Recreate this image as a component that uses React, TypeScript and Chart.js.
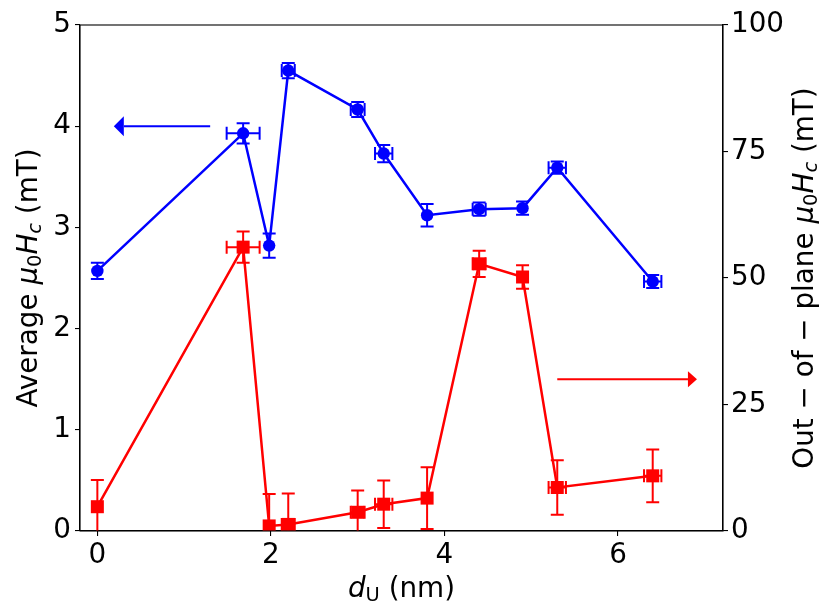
import React, { useEffect, useRef } from 'react';
import { Chart, registerables, Plugin, ChartConfiguration } from 'chart.js';

Chart.register(...registerables);

const FONT = '"DejaVu Sans", sans-serif';
const FS = 27.8;
const BLUE = '#0000ff';
const RED = '#ff0000';
const CAP = 6.5;

// U layer thickness d_U (nm) and its uncertainty
const thickness = [0, 1.68, 1.98, 2.2, 3.0, 3.3, 3.8, 4.4, 4.9, 5.3, 6.4];
const thicknessErr = [0, 0.19, 0, 0.075, 0.08, 0.1, 0, 0.075, 0, 0.1, 0.1];

// average coercive field, left axis (mT)
const avgHc = [2.57, 3.93, 2.82, 4.55, 4.165, 3.73, 3.12, 3.18, 3.19, 3.59, 2.465];
const avgHcErr = [0.08, 0.1, 0.12, 0.075, 0.075, 0.085, 0.11, 0.065, 0.065, 0.06, 0.065];

// out-of-plane coercive field, right axis (mT)
const oopHc = [4.8, 56.1, 1.0, 1.3, 3.7, 5.3, 6.5, 52.8, 50.2, 8.6, 10.9];
const oopHcErr = [5.3, 3.1, 6.3, 6.1, 4.3, 4.7, 6.1, 2.6, 2.3, 5.4, 5.2];

const xTicks = [0, 2, 4, 6];
const leftTicks = [0, 1, 2, 3, 4, 5];
const rightTicks = [0, 25, 50, 75, 100];

// arrows showing which axis each curve uses: [fromX, toX, y]
const leftArrow = [1.3, 0.19, 4];
const rightArrow = [5.3, 6.91, 30];

const series = [
  { axis: 'y', color: BLUE, values: avgHc, errors: avgHcErr },
  { axis: 'y2', color: RED, values: oopHc, errors: oopHcErr },
];

type Seg = { t: string; it?: boolean; sub?: boolean };

const leftTitle: Seg[] = [
  { t: 'Average ' }, { t: 'μ', it: true }, { t: '0', sub: true },
  { t: 'H', it: true }, { t: 'c', it: true, sub: true }, { t: ' (mT)' },
];
const rightTitle: Seg[] = [
  { t: 'Out − of − plane ' }, { t: 'μ', it: true }, { t: '0', sub: true },
  { t: 'H', it: true }, { t: 'c', it: true, sub: true }, { t: ' (mT)' },
];
const bottomTitle: Seg[] = [{ t: 'd', it: true }, { t: 'U', sub: true }, { t: ' (nm)' }];

function segFont(s: Seg) {
  const size = s.sub ? FS * 0.7 : FS;
  return `${s.it ? 'italic ' : ''}${size}px ${FONT}`;
}

// draws mixed italic/subscript text centred on (x, y) baseline
function drawRich(ctx: CanvasRenderingContext2D, segs: Seg[], x: number, y: number, rot: number) {
  ctx.save();
  ctx.translate(x, y);
  ctx.rotate(rot);
  ctx.fillStyle = '#000';
  ctx.textBaseline = 'alphabetic';
  ctx.textAlign = 'left';
  let total = 0;
  const widths = segs.map((s) => {
    ctx.font = segFont(s);
    const w = ctx.measureText(s.t).width;
    total += w;
    return w;
  });
  let cx = -total / 2;
  segs.forEach((s, i) => {
    ctx.font = segFont(s);
    ctx.fillText(s.t, cx, s.sub ? FS * 0.16 : 0);
    cx += widths[i];
  });
  ctx.restore();
}

const errorBars: Plugin = {
  id: 'errorBars',
  beforeDatasetsDraw(chart) {
    const { ctx, chartArea: a } = chart;
    const xs = chart.scales.x;
    ctx.save();
    ctx.beginPath();
    ctx.rect(a.left, a.top, a.right - a.left, a.bottom - a.top);
    ctx.clip();
    ctx.lineWidth = 2;
    for (const s of series) {
      const ys = chart.scales[s.axis];
      ctx.strokeStyle = s.color;
      ctx.beginPath();
      thickness.forEach((xv, i) => {
        const px = xs.getPixelForValue(xv);
        const py = ys.getPixelForValue(s.values[i]);
        const yTop = ys.getPixelForValue(s.values[i] + s.errors[i]);
        const yBot = ys.getPixelForValue(s.values[i] - s.errors[i]);
        ctx.moveTo(px, yTop); ctx.lineTo(px, yBot);
        ctx.moveTo(px - CAP, yTop); ctx.lineTo(px + CAP, yTop);
        ctx.moveTo(px - CAP, yBot); ctx.lineTo(px + CAP, yBot);
        if (thicknessErr[i] > 0) {
          const xl = xs.getPixelForValue(xv - thicknessErr[i]);
          const xr = xs.getPixelForValue(xv + thicknessErr[i]);
          ctx.moveTo(xl, py); ctx.lineTo(xr, py);
          ctx.moveTo(xl, py - CAP); ctx.lineTo(xl, py + CAP);
          ctx.moveTo(xr, py - CAP); ctx.lineTo(xr, py + CAP);
        }
      });
      ctx.stroke();
    }
    ctx.restore();
  },
};

function arrow(ctx: CanvasRenderingContext2D, x0: number, x1: number, y: number, color: string, hl: number, hw: number) {
  const dir = Math.sign(x1 - x0);
  ctx.save();
  ctx.strokeStyle = color;
  ctx.fillStyle = color;
  ctx.lineWidth = 2;
  ctx.beginPath();
  ctx.moveTo(x0, y);
  ctx.lineTo(x1 - dir * hl, y);
  ctx.stroke();
  ctx.beginPath();
  ctx.moveTo(x1, y);
  ctx.lineTo(x1 - dir * hl, y - hw);
  ctx.lineTo(x1 - dir * hl, y + hw);
  ctx.closePath();
  ctx.fill();
  ctx.restore();
}

const decorations: Plugin = {
  id: 'decorations',
  afterDatasetsDraw(chart) {
    const { ctx } = chart;
    const xs = chart.scales.x;
    const yl = chart.scales.y;
    const yr = chart.scales.y2;
    arrow(ctx, xs.getPixelForValue(leftArrow[0]), xs.getPixelForValue(leftArrow[1]),
      yl.getPixelForValue(leftArrow[2]), BLUE, 10, 10);
    arrow(ctx, xs.getPixelForValue(rightArrow[0]), xs.getPixelForValue(rightArrow[1]),
      yr.getPixelForValue(rightArrow[2]), RED, 9, 8);
  },
  afterDraw(chart) {
    const { ctx, chartArea: a } = chart;
    ctx.save();
    ctx.strokeStyle = '#000';
    ctx.lineWidth = 1.1;
    ctx.strokeRect(a.left, a.top, a.right - a.left, a.bottom - a.top);
    ctx.restore();
    const midY = (a.top + a.bottom) / 2;
    drawRich(ctx, leftTitle, 36.5, midY, -Math.PI / 2);
    drawRich(ctx, rightTitle, 813, midY, -Math.PI / 2);
    drawRich(ctx, bottomTitle, (a.left + a.right) / 2, 597, 0);
  },
};

const axisStyle = (tickList: number[], padding: number) => ({
  afterBuildTicks: (s: any) => {
    s.ticks = tickList.map((v) => ({ value: v }));
  },
  grid: { drawOnChartArea: false, drawTicks: true, tickLength: 5, color: '#000', lineWidth: 1.1 },
  border: { display: true, color: '#000', width: 1.1 },
  ticks: { color: '#000', font: { family: FONT, size: FS }, padding, autoSkip: false, maxRotation: 0 },
});

const App: React.FC = () => {
  const canvasRef = useRef<HTMLCanvasElement>(null);

  useEffect(() => {
    document.body.style.margin = '0';
    const config: ChartConfiguration = {
      type: 'scatter',
      data: {
        datasets: [
          {
            data: thickness.map((x, i) => ({ x, y: oopHc[i] })),
            yAxisID: 'y2',
            showLine: true,
            borderColor: RED,
            backgroundColor: RED,
            borderWidth: 2.5,
            pointStyle: 'rect',
            pointRadius: 9.2,
            pointBorderWidth: 0,
            order: 0,
          },
          {
            data: thickness.map((x, i) => ({ x, y: avgHc[i] })),
            yAxisID: 'y',
            showLine: true,
            borderColor: BLUE,
            backgroundColor: BLUE,
            borderWidth: 2.5,
            pointStyle: 'circle',
            pointRadius: 6.2,
            pointBorderWidth: 0,
            order: 1,
          },
        ],
      },
      options: {
        animation: false,
        responsive: false,
        layout: { padding: { top: 25, left: 0, right: 0, bottom: 0 } },
        plugins: { legend: { display: false }, tooltip: { enabled: false } },
        scales: {
          x: {
            type: 'linear',
            position: 'bottom',
            min: -0.2,
            max: 7.21,
            afterFit: (s: any) => { s.height = 84; },
            ...axisStyle(xTicks, 3),
          },
          y: {
            type: 'linear',
            position: 'left',
            min: 0,
            max: 5,
            afterFit: (s: any) => { s.width = 80; },
            ...axisStyle(leftTicks, 4),
          },
          y2: {
            type: 'linear',
            position: 'right',
            min: 0,
            max: 100,
            afterFit: (s: any) => { s.width = 115; },
            ...axisStyle(rightTicks, 3),
          },
        },
      } as any,
      plugins: [errorBars, decorations],
    };
    const chart = new Chart(canvasRef.current!, config);
    return () => chart.destroy();
  }, []);

  return <canvas ref={canvasRef} width={838} height={615} style={{ display: 'block' }} />;
};

export default App;
